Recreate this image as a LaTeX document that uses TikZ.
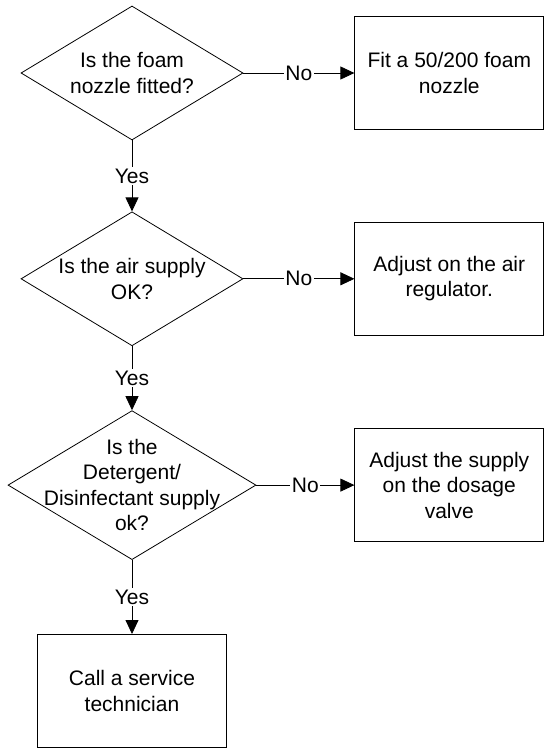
\documentclass[tikz,border=0pt]{standalone}
\usepackage{fontspec}
\setmainfont{Liberation Sans}
\usetikzlibrary{positioning, shapes.geometric, arrows.meta}

\begin{document}
\begin{tikzpicture}[
    font=\fontsize{21}{25.5}\selectfont,
    line width=0.8pt,
    decision/.style={draw, diamond, inner sep=0pt, minimum width=222pt, minimum height=134pt},
    action/.style={draw, rectangle, align=center, minimum width=189pt, minimum height=113pt},
    every label/.append style={align=center, inner sep=0pt},
    flow/.style={-{Triangle[length=14pt, width=13pt]}},
    answer/.style={fill=white, inner sep=1.5pt}
]
    \useasboundingbox (0,0) rectangle (544pt,-749pt);

    \node[decision, label=center:{Is the foam\\nozzle fitted?}] (foam) at (132pt,-73pt) {};
    \node[decision, below=71pt of foam, label=center:{Is the air supply\\OK?}] (air) {};
    \node[decision, minimum width=248pt, minimum height=149pt, below=64pt of air,
        label=center:{Is the\\Detergent/\\Disinfectant supply\\ok?}] (dose) {};
    \node[action, below=74pt of dose] (call) {Call a service\\technician};

    \node[action, right=111pt of foam] (fit) {Fit a 50/200 foam\\nozzle};
    \node[action, right=111pt of air] (regulator) {Adjust on the air\\regulator.};
    \node[action, right=98pt of dose] (valve) {Adjust the supply\\on the dosage\\valve};

    \draw[flow] (foam.east) -- (fit.west) node[midway, answer] {No};
    \draw[flow] (air.east) -- (regulator.west) node[midway, answer] {No};
    \draw[flow] (dose.east) -- (valve.west) node[midway, answer] {No};

    \draw[flow] (foam.south) -- (air.north) node[midway, answer] {Yes};
    \draw[flow] (air.south) -- (dose.north) node[midway, answer] {Yes};
    \draw[flow] (dose.south) -- (call.north) node[midway, answer] {Yes};

\end{tikzpicture}
\end{document}
